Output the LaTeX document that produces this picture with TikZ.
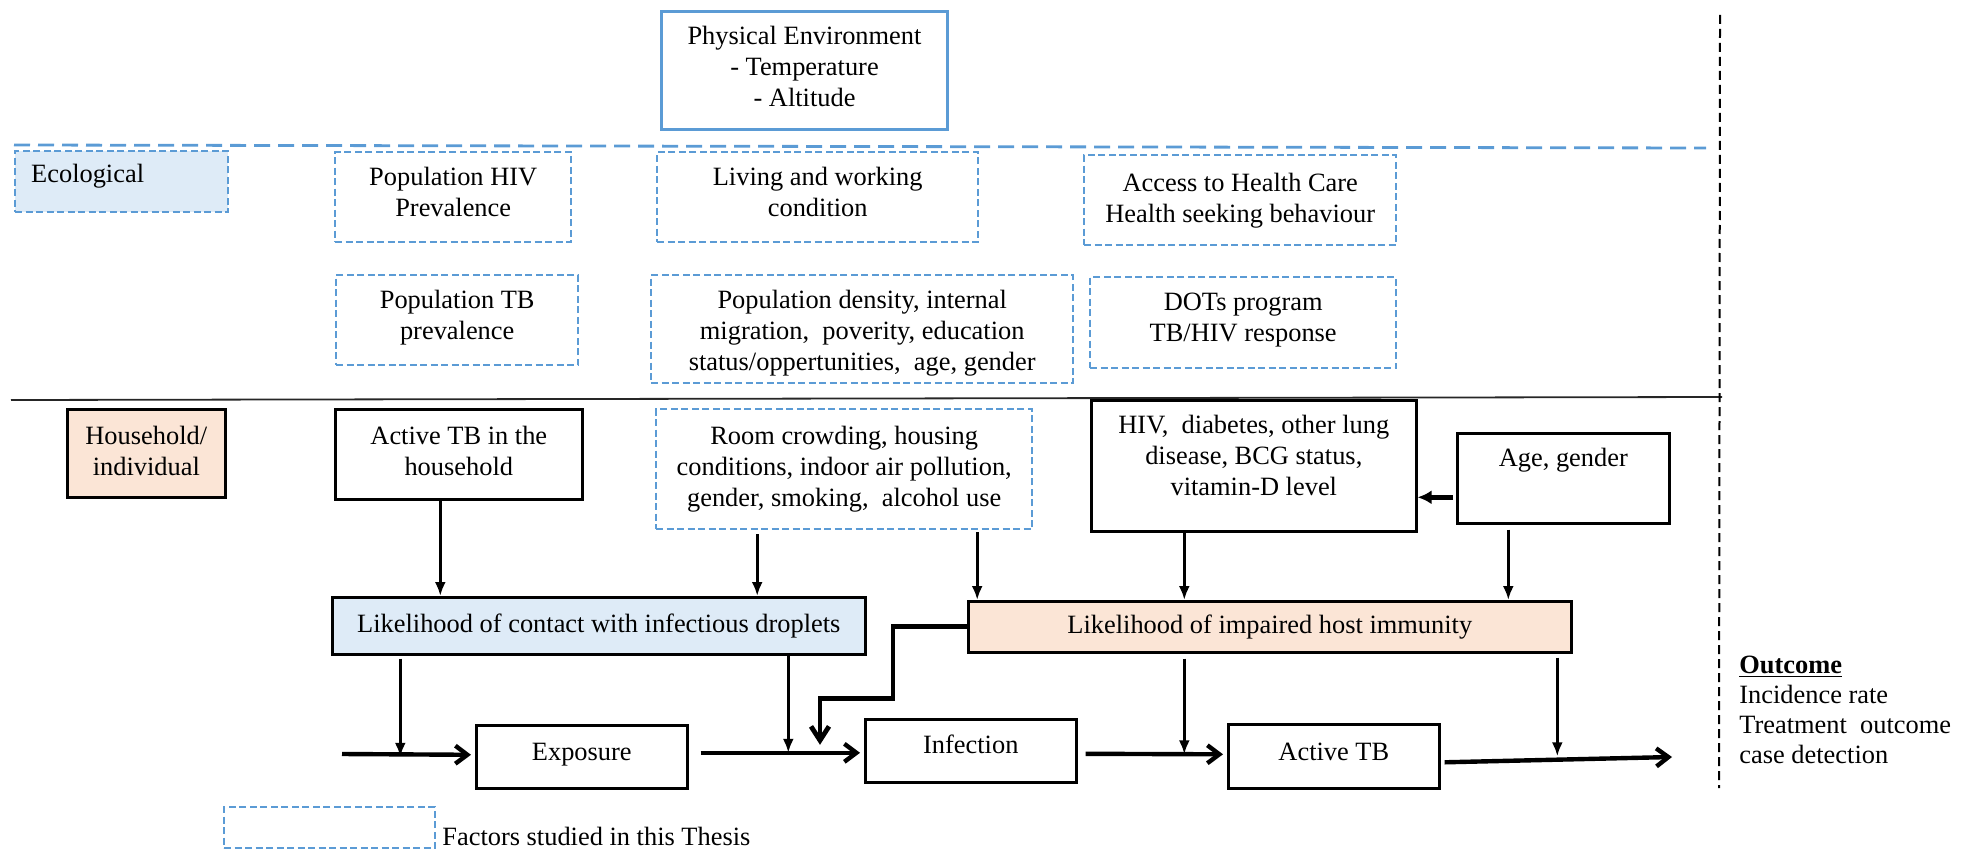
\documentclass[tikz,border=0pt]{standalone}
\usepackage{fontspec}
\setmainfont{Liberation Serif}
\usetikzlibrary{arrows.meta,calc}
\definecolor{bl}{HTML}{5B9BD5}
\definecolor{lb}{HTML}{DEEBF7}
\definecolor{pe}{HTML}{FBE5D6}
\newcommand\dpx[1]{\rule[-#1]{0pt}{0pt}}
\begin{document}
\begin{tikzpicture}[x=0.5pt,y=-0.5pt,
  every node/.style={font=\fontsize{13.2}{15.5}\selectfont},
  rect/.style n args={4}{anchor=north west, at={(#1,#2)}, minimum width={(#3-#1)*0.5pt}, minimum height={(#4-#2)*0.5pt}},
  bx/.style={draw=black, line width=1.3pt, inner sep=0pt, align=center},
  dbx/.style={draw=bl, line width=1.2pt, dash pattern=on 3.5pt off 1.75pt, inner sep=0pt, align=center},
  arr/.style={line width=1.6pt, -{Latex[length=7pt,width=5.5pt]}},
  mainarr/.style={line width=2.2pt, -{Straight Barb[length=6pt,width=9pt]}},
]
\useasboundingbox (0,0) rectangle (1963,850);

% dividers
\draw[bl, line width=1.4pt, dash pattern=on 8pt off 4pt] (14,145) -- (1706,148);
\draw[line width=0.9pt, black!85] (11,400) -- (1722,397);
\draw[line width=1pt, dash pattern=on 4.5pt off 2.5pt] (1720,15) -- (1719,788);

% ecological level
\node[draw=bl, line width=1.5pt, inner sep=0pt, align=center, rect={660}{10}{946}{128}] (phys) {Physical Environment\\- Temperature\\- Altitude\dpx{4.5pt}};
\node[dbx, fill=lb, rect={14}{150}{227}{211}, text width=90.5pt, align=left] (eco) {Ecological\dpx{7.9pt}};
\node[dbx, rect={334}{151}{570}{241}] (hivp) {Population HIV\\Prevalence\dpx{5pt}};
\node[dbx, rect={656}{151}{977}{241}] (living) {Living and working\\condition\dpx{5pt}};
\node[dbx, rect={1083}{154}{1395}{244}] (access) {Access to Health Care\\Health seeking behaviour};
\node[dbx, rect={335}{274}{577}{364}] (tbp) {Population TB\\prevalence\dpx{5.4pt}};
\node[dbx, rect={650}{274}{1072}{382}] (popden) {\rule{0pt}{13.1pt}Population density, internal\\migration,\ \ poverity, education\\status/oppertunities,\ \ age, gender};
\node[dbx, rect={1089}{276}{1395}{367}] (dots) {DOTs program\\TB/HIV response\dpx{5.4pt}};

% household level
\node[bx, fill=pe, rect={66}{408}{224}{496}] (hh) {Household/\\individual\dpx{2.5pt}};
\node[bx, rect={334}{408}{581}{498}] (atbh) {Active TB in the\\household\dpx{3.75pt}};
\node[dbx, rect={655}{408}{1031}{528}] (room) {Room crowding, housing\\conditions, indoor air pollution,\\gender, smoking,\ \ alcohol use};
\node[bx, rect={1090}{399}{1415}{530}] (hiv) {HIV,\ \ diabetes, other lung\\disease, BCG status,\\vitamin-D level\dpx{10pt}};
\node[bx, rect={1456}{432}{1668}{522}] (age) {Age, gender\dpx{20.75pt}};
\node[bx, fill=lb, rect={331}{596}{864}{653}] (contact) {Likelihood of contact with infectious droplets};
\node[bx, fill=pe, rect={967}{600}{1570}{651}] (impaired) {Likelihood of impaired host immunity};
\node[bx, rect={475}{724}{686}{787}] (expo) {Exposure\dpx{5.4pt}};
\node[bx, rect={864}{718}{1075}{781}] (infect) {Infection\dpx{7pt}};
\node[bx, rect={1227}{723}{1438}{787}] (activetb) {Active TB\dpx{5pt}};

% legend and outcome
\node[dbx, rect={223}{806}{434}{847}] (leg) {};
\node[anchor=west, inner sep=0pt] (legt) at (442,836) {Factors studied in this Thesis};
\node[anchor=west, inner sep=0pt, align=left, font=\fontsize{13.2}{15}\selectfont] (outcome) at (1739,710)
  {\underline{\textbf{Outcome}}\\Incidence rate\\Treatment\ \ outcome\\case detection};

% thin arrows into mediators
\draw[arr] ([xshift=-9.25pt]atbh.south) -- ([xshift=-9.25pt]atbh.south |- contact.north);
\draw[arr] ([xshift=-43.5pt,yshift=-2pt]room.south) -- ([xshift=-43.5pt]room.south |- contact.north);
\draw[arr] ([xshift=66.5pt,yshift=-1pt]room.south) -- ([xshift=66.5pt]room.south |- impaired.north);
\draw[arr] ([xshift=-34.75pt]hiv.south) -- ([xshift=-34.75pt]hiv.south |- impaired.north);
\draw[arr] ([xshift=-27.5pt,yshift=-2.5pt]age.south) -- ([xshift=-27.5pt]age.south |- impaired.north);
\draw[line width=2.2pt, -{Latex[length=7pt,width=7pt]}] ([xshift=-1.5pt,yshift=-9.5pt]age.west) -- ([yshift=-9.5pt]age.west -| hiv.east);

% thin arrows onto the main chain
\draw[arr] ([xshift=-99.25pt,yshift=-1.5pt]contact.south) -- ([xshift=-99.25pt]contact.south |- expo.west);
\draw[arr] ([xshift=94.75pt]contact.south) -- ([xshift=94.75pt,yshift=2pt]contact.south |- expo.east);
\draw[arr] ([xshift=-42.75pt,yshift=-2.5pt]impaired.south) -- ([xshift=-42.75pt,yshift=1pt]impaired.south |- activetb.west);
\draw[arr] ([xshift=143.75pt,yshift=-2pt]impaired.south) -- ([xshift=143.75pt]impaired.south |- activetb.east);

% elbow
\draw[line width=2.4pt, -{Straight Barb[length=7pt,width=9pt]}] (impaired.west) -- ++(-74,0) -- ++(0,72) -- ++(-73,0) -- ++(0,46);

% main chain
\coordinate (cstart) at (342,754);
\coordinate (cend) at (1672,757);
\draw[mainarr] (cstart) -- ([xshift=-2pt,yshift=1pt]expo.west);
\draw[mainarr] ([xshift=6pt,yshift=2pt]expo.east) -- ([xshift=-2pt,yshift=-1pt]infect.west);
\draw[mainarr] ([xshift=4pt,yshift=-1.5pt]infect.east) -- ([xshift=-2pt,yshift=1pt]activetb.west);
\draw[mainarr] ([xshift=2pt,yshift=-3pt]activetb.east) -- (cend);
\end{tikzpicture}
\end{document}
